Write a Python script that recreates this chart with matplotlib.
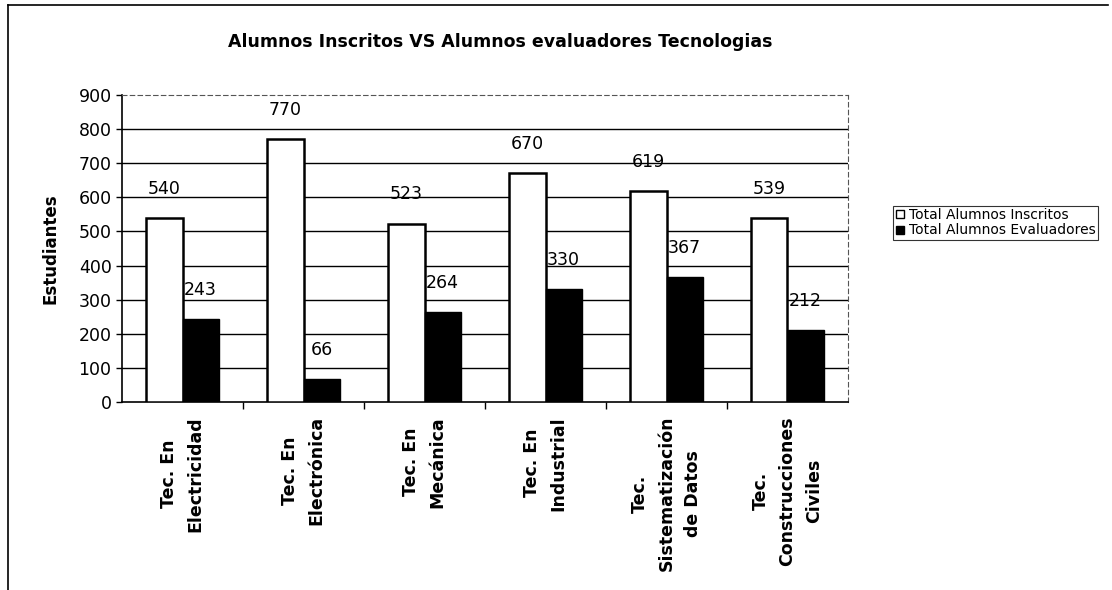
import numpy as np, matplotlib as mpl
mpl.use("Agg"); import matplotlib.pyplot as plt
from matplotlib.lines import Line2D
mpl.rcParams.update({"font.family": ["DejaVu Sans"]})

categorias = ["Tec. En\nElectricidad", "Tec. En\nElectrónica", "Tec. En\nMecánica",
              "Tec. En\nIndustrial", "Tec.\nSistematización\nde Datos", "Tec.\nConstrucciones\nCiviles"]
inscritos = [540, 770, 523, 670, 619, 539]
evaluadores = [243, 66, 264, 330, 367, 212]
yticks = list(range(0, 901, 100))

W, H = 1112, 590
fig = plt.figure(figsize=(W/100, H/100), dpi=100)
ax = fig.add_axes([122/W, 1-402/H, (848-122)/W, (402-95)/H])

x = np.arange(len(categorias))
w = 0.3
b1 = ax.bar(x - w/2, inscritos, w, color="white", edgecolor="black", lw=1.8, zorder=3,
            label="Total Alumnos Inscritos")
b2 = ax.bar(x + w/2, evaluadores, w, color="black", edgecolor="black", lw=1.0, zorder=3,
            label="Total Alumnos Evaluadores")
for bars in (b1, b2):
    for r in bars:
        ax.annotate(f"{int(r.get_height())}", (r.get_x()+r.get_width()/2, r.get_height()),
                    xytext=(0, 21), textcoords="offset points", ha="center", va="center",
                    fontsize=12.5, zorder=4)

ax.set_xlim(-0.5, len(categorias)-0.5)
ax.set_ylim(0, 900)
ax.set_yticks(yticks)
ax.tick_params(axis="y", labelsize=12.5, length=4, width=1, direction="out")
ax.set_xticks(x)
ax.set_xticklabels(categorias, rotation=90, fontsize=12.5, fontweight="bold",
                   ha="center", va="top", multialignment="center", linespacing=1.6)
ax.tick_params(axis="x", length=0, pad=10)
ax.set_xticks(x[:-1] + 0.5, minor=True)
ax.tick_params(axis="x", which="minor", length=5, width=1, direction="out")
for v in yticks[1:-1]:
    ax.axhline(v, color="black", lw=1.0, zorder=1)
for s in ["top", "right"]:
    ax.spines[s].set_color("#555555"); ax.spines[s].set_linestyle((0, (4, 3))); ax.spines[s].set_linewidth(0.8)
ax.spines["left"].set_linewidth(1.2); ax.spines["bottom"].set_linewidth(1.2)
ax.set_ylabel("Estudiantes", fontsize=12, fontweight="bold", labelpad=14)

fig.text(500/W, 1-42/H, "Alumnos Inscritos VS Alumnos evaluadores Tecnologias",
         ha="center", va="center", fontsize=12.5, fontweight="bold")

h = [Line2D([], [], marker="s", ls="", mfc="white", mec="black", ms=6),
     Line2D([], [], marker="s", ls="", mfc="black", mec="black", ms=6)]
leg = fig.legend(h, ["Total Alumnos Inscritos", "Total Alumnos Evaluadores"],
                 loc="upper left", bbox_to_anchor=(893/W, 1-206/H), fontsize=10,
                 frameon=True, fancybox=False, handlelength=0.7, handletextpad=0.3,
                 borderpad=0.15, labelspacing=0.1, borderaxespad=0)
leg.get_frame().set_edgecolor("black"); leg.get_frame().set_linewidth(0.8)

# outer frame of the scanned chart
fig.add_artist(Line2D([8/W, 8/W], [0, 1-5/H], color="black", lw=1.2))
fig.add_artist(Line2D([8/W, 1108/W], [1-5/H, 1-5/H], color="black", lw=1.2))

fig.savefig("out.png", dpi=100)
